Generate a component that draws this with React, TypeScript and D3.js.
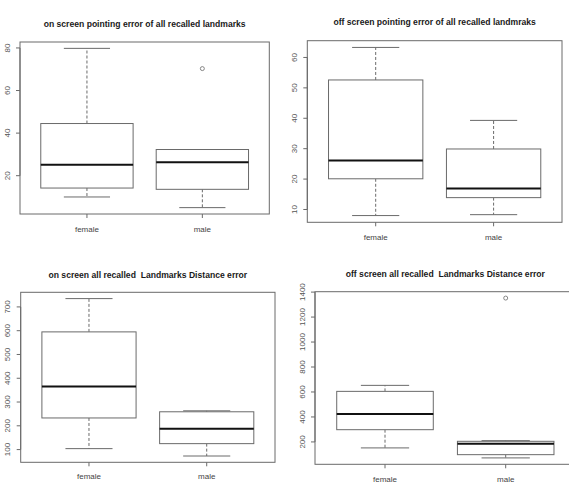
import * as d3 from "d3";

// five-number summaries: [lower whisker, Q1, median, Q3, upper whisker]
const CATEGORIES = ["female", "male"];

const TITLES = [
  "on screen pointing error of all recalled landmarks",
  "off screen pointing error of all recalled landmraks",
  "on screen all recalled  Landmarks Distance error",
  "off screen all recalled  Landmarks Distance error",
];

const ON_POINT_FEMALE = [10, 14.2, 25.1, 44.5, 79.8];
const ON_POINT_MALE = [5, 13.6, 26.3, 32.3, 32.3];
const ON_POINT_OUTLIERS = [[], [70.3]];

const OFF_POINT_FEMALE = [8, 20.1, 26.1, 52.6, 63.3];
const OFF_POINT_MALE = [8.3, 13.9, 16.9, 29.9, 39.3];
const OFF_POINT_OUTLIERS = [[], []];

const ON_DIST_FEMALE = [104, 233, 365, 595, 735];
const ON_DIST_MALE = [73, 125, 188, 259, 263];
const ON_DIST_OUTLIERS = [[], []];

const OFF_DIST_FEMALE = [152, 298, 424, 605, 653];
const OFF_DIST_MALE = [72, 98, 186, 205, 210];
const OFF_DIST_OUTLIERS = [[], [1352]];

const TICKS = [
  [20, 40, 60, 80],
  [10, 20, 30, 40, 50, 60],
  [100, 200, 300, 400, 500, 600, 700],
  [200, 400, 600, 800, 1000, 1200, 1400],
];

// plot region placement in the 569x489 page
const LAYOUT = [
  { left: 20, right: 269.3, top: 42, bottom: 214, titleY: 26.5, catY: 231.5 },
  { left: 307.3, right: 562, top: 40.7, bottom: 222.3, titleY: 25, catY: 240 },
  { left: 20.7, right: 275, top: 292.3, bottom: 462.3, titleY: 277.5, catY: 479 },
  { left: 315, right: 575.7, top: 291.7, bottom: 464.3, titleY: 276.5, catY: 482 },
];

const PANELS = [
  { stats: [ON_POINT_FEMALE, ON_POINT_MALE], outliers: ON_POINT_OUTLIERS },
  { stats: [OFF_POINT_FEMALE, OFF_POINT_MALE], outliers: OFF_POINT_OUTLIERS },
  { stats: [ON_DIST_FEMALE, ON_DIST_MALE], outliers: ON_DIST_OUTLIERS },
  { stats: [OFF_DIST_FEMALE, OFF_DIST_MALE], outliers: OFF_DIST_OUTLIERS },
];

const FONT = "'Liberation Sans', Arial, sans-serif";
const LINE = "#6a6a6a";

function Panel({ idx }: { idx: number }) {
  const { stats, outliers } = PANELS[idx];
  const L = LAYOUT[idx];
  const ticks = TICKS[idx];

  // R style: 4% padding on both axes
  const all = [...stats.flat(), ...outliers.flat()];
  const [lo, hi] = d3.extent(all) as [number, number];
  const pad = (hi - lo) * 0.04;
  const y = d3.scaleLinear().domain([lo - pad, hi + pad]).range([L.bottom, L.top]);
  const xPad = 2 * 0.04;
  const x = d3
    .scaleLinear()
    .domain([0.5 - xPad, CATEGORIES.length + 0.5 + xPad])
    .range([L.left, L.right]);
  const half = x(0.4) - x(0);
  const cap = x(0.2) - x(0);

  return (
    <g>
      <text
        x={(L.left + L.right) / 2}
        y={L.titleY}
        textAnchor="middle"
        fontFamily={FONT}
        fontWeight="bold"
        fontSize={8.6}
        fill="#1a1a1a"
        style={{ whiteSpace: "pre" }}
      >
        {TITLES[idx]}
      </text>

      <rect
        x={L.left}
        y={L.top}
        width={L.right - L.left}
        height={L.bottom - L.top}
        fill="none"
        stroke={LINE}
        strokeWidth={1}
      />

      {/* y axis */}
      <line
        x1={L.left}
        x2={L.left}
        y1={y(ticks[0])}
        y2={y(ticks[ticks.length - 1])}
        stroke={LINE}
      />
      {ticks.map((t) => (
        <g key={t}>
          <line x1={L.left - 4} x2={L.left} y1={y(t)} y2={y(t)} stroke={LINE} />
          <text
            transform={`translate(${L.left - 10.5},${y(t)}) rotate(-90)`}
            textAnchor="middle"
            fontFamily={FONT}
            fontSize={8}
            fill="#555"
          >
            {t}
          </text>
        </g>
      ))}

      {/* x axis ticks + labels */}
      {CATEGORIES.map((c, i) => (
        <g key={c}>
          <line x1={x(i + 1)} x2={x(i + 1)} y1={L.bottom} y2={L.bottom + 4} stroke={LINE} />
          <text
            x={x(i + 1)}
            y={L.catY}
            textAnchor="middle"
            fontFamily={FONT}
            fontSize={8}
            fill="#444"
          >
            {c}
          </text>
        </g>
      ))}

      {/* boxes */}
      {stats.map((s, i) => {
        const cx = x(i + 1);
        const [wl, q1, med, q3, wh] = s;
        return (
          <g key={i}>
            {wh > q3 && (
              <line x1={cx} x2={cx} y1={y(q3)} y2={y(wh)} stroke={LINE} strokeDasharray="3,2" />
            )}
            {wl < q1 && (
              <line x1={cx} x2={cx} y1={y(q1)} y2={y(wl)} stroke={LINE} strokeDasharray="3,2" />
            )}
            <line x1={cx - cap} x2={cx + cap} y1={y(wh)} y2={y(wh)} stroke={LINE} />
            <line x1={cx - cap} x2={cx + cap} y1={y(wl)} y2={y(wl)} stroke={LINE} />
            <rect
              x={cx - half}
              y={y(q3)}
              width={half * 2}
              height={y(q1) - y(q3)}
              fill="#fff"
              stroke={LINE}
            />
            <line
              x1={cx - half}
              x2={cx + half}
              y1={y(med)}
              y2={y(med)}
              stroke="#111"
              strokeWidth={2}
            />
            {outliers[i].map((o, k) => (
              <circle key={k} cx={cx} cy={y(o)} r={2} fill="none" stroke={LINE} strokeWidth={0.8} />
            ))}
          </g>
        );
      })}
    </g>
  );
}

export default function App() {
  return (
    <svg
      width={569}
      height={489}
      style={{ position: "absolute", left: 0, top: 0, background: "#fff" }}
    >
      {PANELS.map((_, i) => (
        <Panel key={i} idx={i} />
      ))}
    </svg>
  );
}
